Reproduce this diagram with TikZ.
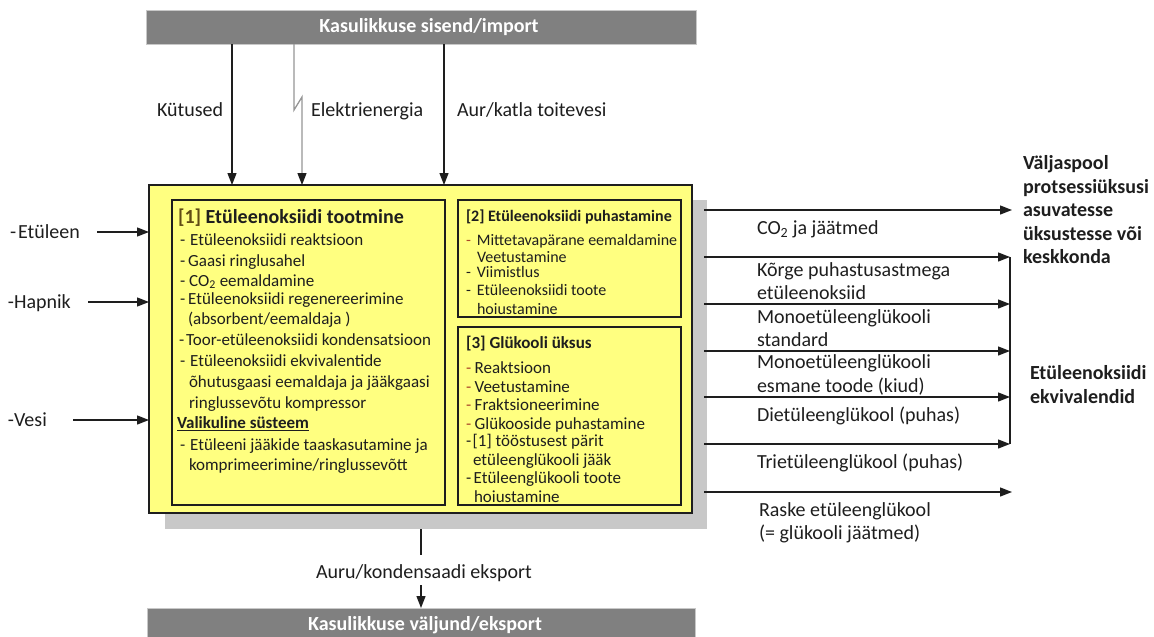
\documentclass[tikz,border=0pt]{standalone}
\usepackage{fontspec}
\setmainfont{Carlito}
\usetikzlibrary{arrows.meta}
\definecolor{unitfill}{RGB}{255,255,128}
\definecolor{shade}{RGB}{200,200,200}
\definecolor{barfill}{RGB}{128,128,128}
\definecolor{barline}{RGB}{200,200,200}
\definecolor{tagcol}{RGB}{95,75,20}
\definecolor{dashcol}{RGB}{170,70,40}
\definecolor{power}{RGB}{150,150,150}
\definecolor{ink}{RGB}{30,30,30}
\newcommand\fsz[2]{\fontsize{#1}{#2}\selectfont}
\newcommand\dsh{\textcolor{dashcol}{-}}

\begin{document}
\begin{tikzpicture}[x=1pt,y=-1pt,
  lbl/.style={inner sep=0pt,outer sep=0pt,anchor=base west,text=ink,font=\fsz{20}{24}},
  bold/.style={lbl,font=\bfseries\fsz{20}{24}},
  item/.style={inner sep=0pt,outer sep=0pt,anchor=base west,text=ink,font=\fsz{17}{20}},
  itemb/.style={item,font=\bfseries\fsz{17}{20}},
  itemsm/.style={item,font=\fsz{16}{18}},
  itemsmb/.style={item,font=\bfseries\fsz{16}{18}},
  box/.style={draw=ink,line width=1.3pt,fill=unitfill,inner sep=0pt,outer sep=0pt,anchor=north west},
  bar/.style={draw=barline,line width=0.8pt,fill=barfill,inner sep=0pt,outer sep=0pt,anchor=north west},
  bartext/.style={inner sep=0pt,text=white,font=\bfseries\fsz{20}{24}},
  conn/.style={line width=1.3pt,draw=ink},
  arr/.style={conn,-{Triangle[length=12pt,width=9pt]}},
  powerarr/.style={line width=1.3pt,draw=power,line join=miter,-{Triangle[length=12pt,width=9pt,color=ink]}}
]
\useasboundingbox (0,0) rectangle (1154,637);
\fill[white] (0,0) rectangle (1154,637);

% utility bars
\node[bar,minimum width=550pt,minimum height=34pt] (imp) at (146,10) {};
\node[bartext] (impt) at (429,27) {Kasulikkuse sisend/import};
\node[bar,minimum width=548pt,minimum height=40pt] (exp) at (147,608) {};
\node[bartext] (expt) at (425,625) {Kasulikkuse väljund/eksport};

% process unit with its shadow
\node[fill=shade,inner sep=0pt,outer sep=0pt,anchor=north west,minimum width=542pt,minimum height=329pt] (shadow) at (165,200) {};
\node[box,minimum width=543pt,minimum height=328pt] (unit) at (149,185) {};
\node[box,minimum width=273pt,minimum height=305pt] (b1) at (172,200) {};
\node[box,minimum width=223pt,minimum height=117pt] (b2) at (458,200) {};
\node[box,minimum width=223pt,minimum height=178pt] (b3) at (458,327) {};

% [1] ethylene oxide production
\node[lbl,font=\bfseries\fsz{20}{24}] (b1t) at (178,223) {\textcolor{tagcol}{[1]} Etüleenoksiidi tootmine};
\node[item] (b1a) at (180,245) {-\hspace{5pt}Etüleenoksiidi reaktsioon};
\node[item] (b1b) at (180,266) {-\hspace{3pt}Gaasi ringlusahel};
\node[item] (b1c) at (180,286) {-\hspace{4pt}CO\textsubscript{2} eemaldamine};
\node[item] (b1d) at (180,304) {-\hspace{3pt}Etüleenoksiidi regenereerimine};
\node[item] (b1e) at (188,324.5) {(absorbent/eemaldaja )};
\node[item] (b1f) at (179,345) {-\hspace{2pt}Toor-etüleenoksiidi kondensatsioon};
\node[item] (b1g) at (180,366) {-\hspace{5pt}Etüleenoksiidi ekvivalentide};
\node[item] (b1h) at (189,387) {õhutusgaasi eemaldaja ja jääkgaasi};
\node[item] (b1i) at (189,408) {ringlussevõtu kompressor};
\node[itemb] (b1j) at (177,428.5) {\underline{Valikuline süsteem}};
\node[item] (b1k) at (180,450) {-\hspace{5pt}Etüleeni jääkide taaskasutamine ja};
\node[item] (b1l) at (189,470) {komprimeerimine/ringlussevõtt};

% [2] purification
\node[itemsmb] (b2t) at (466,221.5) {[2] Etüleenoksiidi puhastamine};
\node[itemsm] (b2a) at (466,245.5) {\dsh\hspace{6pt}Mittetavapärane eemaldamine};
\node[itemsm] (b2b) at (477,262) {Veetustamine};
\node[itemsm] (b2c) at (466,277) {-\hspace{6pt}Viimistlus};
\node[itemsm] (b2d) at (466,295) {-\hspace{6pt}Etüleenoksiidi toote};
\node[itemsm] (b2e) at (477,314) {hoiustamine};

% [3] glycol unit
\node[itemb] (b3t) at (466,348) {[3] Glükooli üksus};
\node[item] (b3a) at (466,373.5) {\dsh\hspace{3.5pt}Reaktsioon};
\node[item] (b3b) at (466,392) {\dsh\hspace{3.5pt}Veetustamine};
\node[item] (b3c) at (466,410) {\dsh\hspace{3.5pt}Fraktsioneerimine};
\node[item] (b3d) at (466,429) {\dsh\hspace{3.5pt}Glükooside puhastamine};
\node[item] (b3e) at (466,446.5) {-\hspace{1.5pt}[1] tööstusest pärit};
\node[item] (b3f) at (473,465) {etüleenglükooli jääk};
\node[item] (b3g) at (466,483.5) {-\hspace{2.5pt}Etüleenglükooli toote};
\node[item] (b3h) at (474,502) {hoiustamine};

% utility inputs from the top
\coordinate (kx) at (232,0);
\coordinate (ex1) at (294,0);
\coordinate (ex2) at (302,0);
\coordinate (ax) at (444,0);
\draw[arr] (imp.south -| kx) -- (unit.north -| kx);
\draw[powerarr] (imp.south -| ex1) -- (294,110) -- (302,97) -- (unit.north -| ex2);
\draw[arr] (imp.south -| ax) -- (unit.north -| ax);
\node[lbl] (kut) at (157,116) {Kütused};
\node[lbl] (ele) at (311,116) {Elektrienergia};
\node[lbl] (aur) at (457,116) {Aur/katla toitevesi};

% raw material inputs
\node[lbl] (in1) at (10,238) {-\hspace{2pt}Etüleen};
\node[lbl] (in2) at (8,308) {-Hapnik};
\node[lbl] (in3) at (8,426) {-Vesi};
\coordinate (i1) at (97,232);
\coordinate (i2) at (88,302);
\coordinate (i3) at (73,420);
\draw[arr] (i1) -- (i1 -| unit.west);
\draw[arr] (i2) -- (i2 -| unit.west);
\draw[arr] (i3) -- (i3 -| unit.west);

% steam / condensate export
\coordinate (bx) at (421,0);
\node[lbl,anchor=base] (aux) at (424,578) {Auru/kondensaadi eksport};
\draw[conn] (shadow.south -| bx) -- (421,555);
\draw[arr] (421,585) -- (exp.north -| bx);

% product outputs
\coordinate (far) at (1012,0);
\coordinate (brk) at (1010,0);
\foreach \y [count=\i] in {210,257,304,351,397,444,492}
  \coordinate (o\i) at (704,\y);
\draw[arr] (o1) -- (o1 -| far);
\foreach \i in {2,...,6}
  \draw[arr] (o\i) -- (o\i -| brk);
\draw[conn] (o2 -| brk) -- (o6 -| brk);
\draw[arr] (o7) -- (o7 -| far);

\node[lbl] (p1) at (757,234) {CO\textsubscript{2} ja jäätmed};
\node[lbl] (p2a) at (757,276) {Kõrge puhastusastmega};
\node[lbl] (p2b) at (757,299) {etüleenoksiid};
\node[lbl] (p3a) at (757,323) {Monoetüleenglükooli};
\node[lbl] (p3b) at (757,346) {standard};
\node[lbl] (p4a) at (757,368) {Monoetüleenglükooli};
\node[lbl] (p4b) at (757,392) {esmane toode (kiud)};
\node[lbl] (p5) at (757,421) {Dietüleenglükool (puhas)};
\node[lbl] (p6) at (757,468) {Trietüleenglükool (puhas)};
\node[lbl] (p7a) at (759,516) {Raske etüleenglükool};
\node[lbl] (p7b) at (759,539) {(= glükooli jäätmed)};

% destinations
\node[bold] (d1a) at (1023,169) {Väljaspool};
\node[bold] (d1b) at (1023,193) {protsessiüksusi};
\node[bold] (d1c) at (1023,216) {asuvatesse};
\node[bold] (d1d) at (1023,240) {üksustesse või};
\node[bold] (d1e) at (1023,263) {keskkonda};
\node[bold] (d2a) at (1030,379) {Etüleenoksiidi};
\node[bold] (d2b) at (1030,403) {ekvivalendid};
\end{tikzpicture}
\end{document}
